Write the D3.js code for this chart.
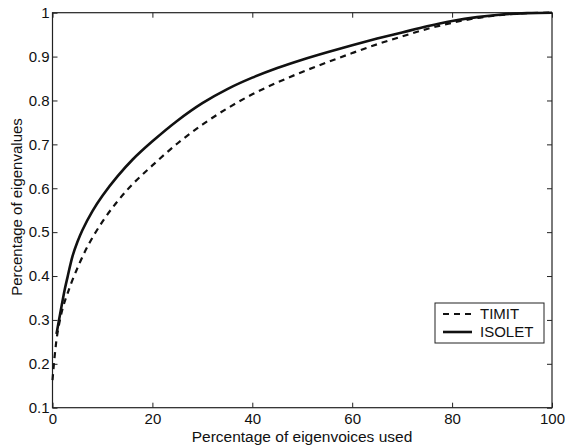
<!DOCTYPE html>
<html>
<head>
<meta charset="utf-8">
<script src="https://cdn.jsdelivr.net/npm/d3@7"></script>
<style>
  body { margin: 0; background: #fff; }
  svg { display: block; font-family: "Liberation Sans", Arial, sans-serif; }
  .axis text { font-size: 15px; fill: #111; }
  .axis line { stroke: #222; }
</style>
</head>
<body>
<script>
// percentage of eigenvoices used vs. percentage of eigenvalues
var timitX = [0, 0.5, 1, 2, 3, 4.5, 7, 10, 13, 16, 20, 25, 30, 35, 40, 45, 50, 55, 60, 65, 70, 75, 80, 85, 90, 95, 100];
var timitY = [0.163, 0.225, 0.27, 0.325, 0.36, 0.405, 0.467, 0.524, 0.570, 0.609, 0.652, 0.702, 0.745, 0.782, 0.814, 0.841, 0.865, 0.887, 0.908, 0.928, 0.946, 0.963, 0.977, 0.988, 0.995, 0.999, 1.0];

var isoletX = [0.8, 1.5, 2.5, 3, 4, 5, 6, 8, 10, 13, 16, 20, 25, 30, 35, 40, 45, 50, 55, 60, 65, 70, 75, 80, 85, 90, 95, 100];
var isoletY = [0.268, 0.312, 0.372, 0.397, 0.445, 0.478, 0.505, 0.548, 0.583, 0.627, 0.665, 0.707, 0.754, 0.794, 0.826, 0.852, 0.874, 0.893, 0.910, 0.926, 0.941, 0.955, 0.969, 0.981, 0.990, 0.996, 0.999, 1.0];

var xTicks = [0, 20, 40, 60, 80, 100];
var yTicks = [0.1, 0.2, 0.3, 0.4, 0.5, 0.6, 0.7, 0.8, 0.9, 1];
var seriesNames = ["TIMIT", "ISOLET"];

var W = 565, H = 446;
var box = { left: 52.5, right: 552, top: 12.7, bottom: 407.7 };

var svg = d3.select("body").append("svg")
    .attr("width", W)
    .attr("height", H);

var x = d3.scaleLinear().domain([0, 100]).range([box.left, box.right]);
var y = d3.scaleLinear().domain([0.1, 1]).range([box.bottom, box.top]);

var fmt = function(d) { return String(+d.toFixed(1)); };

// axes, ticks pointing inwards (matlab style)
svg.append("g")
    .attr("class", "axis")
    .attr("transform", "translate(0," + box.bottom + ")")
    .call(d3.axisBottom(x).tickValues(xTicks).tickSizeInner(-5).tickSizeOuter(0).tickPadding(6).tickFormat(fmt))
    .call(g => g.select(".domain").remove());

svg.append("g")
    .attr("class", "axis")
    .attr("transform", "translate(0," + box.top + ")")
    .call(d3.axisTop(x).tickValues(xTicks).tickSizeInner(-5).tickSizeOuter(0).tickFormat(""))
    .call(g => g.select(".domain").remove());

svg.append("g")
    .attr("class", "axis")
    .attr("transform", "translate(" + box.left + ",0)")
    .call(d3.axisLeft(y).tickValues(yTicks).tickSizeInner(-5).tickSizeOuter(0).tickPadding(3).tickFormat(fmt))
    .call(g => g.select(".domain").remove());

svg.append("g")
    .attr("class", "axis")
    .attr("transform", "translate(" + box.right + ",0)")
    .call(d3.axisRight(y).tickValues(yTicks).tickSizeInner(-5).tickSizeOuter(0).tickFormat(""))
    .call(g => g.select(".domain").remove());

svg.append("rect")
    .attr("x", box.left)
    .attr("y", box.top)
    .attr("width", box.right - box.left)
    .attr("height", box.bottom - box.top)
    .attr("fill", "none")
    .attr("stroke", "#222")
    .attr("stroke-width", 1.2);

// curves
var line = d3.line()
    .x(d => x(d[0]))
    .y(d => y(d[1]))
    .curve(d3.curveCatmullRom.alpha(0.5));

svg.append("path")
    .datum(d3.zip(timitX, timitY))
    .attr("d", line)
    .attr("fill", "none")
    .attr("stroke", "#111")
    .attr("stroke-width", 2.2)
    .attr("stroke-dasharray", "6,5");

svg.append("path")
    .datum(d3.zip(isoletX, isoletY))
    .attr("d", line)
    .attr("fill", "none")
    .attr("stroke", "#111")
    .attr("stroke-width", 2.6);

// axis labels
svg.append("text")
    .attr("x", 302)
    .attr("y", 442)
    .attr("text-anchor", "middle")
    .attr("font-size", 15.5)
    .attr("fill", "#111")
    .text("Percentage of eigenvoices used");

svg.append("text")
    .attr("transform", "translate(17," + 207 + ") rotate(-90)")
    .attr("dy", "0.35em")
    .attr("text-anchor", "middle")
    .attr("font-size", 15)
    .attr("fill", "#111")
    .text("Percentage of eigenvalues");

// legend
var legend = svg.append("g").attr("transform", "translate(435,303)");
legend.append("rect")
    .attr("width", 109)
    .attr("height", 40)
    .attr("fill", "#fff")
    .attr("stroke", "#222")
    .attr("stroke-width", 1);

var styles = [
    { dash: "6,5", width: 2.2 },
    { dash: null, width: 2.6 }];

seriesNames.forEach(function(name, i) {
    var cy = 11 + i * 18;
    legend.append("line")
        .attr("x1", 8).attr("x2", 37)
        .attr("y1", cy).attr("y2", cy)
        .attr("stroke", "#111")
        .attr("stroke-width", styles[i].width)
        .attr("stroke-dasharray", styles[i].dash);
    legend.append("text")
        .attr("x", 45)
        .attr("y", cy)
        .attr("dy", "0.36em")
        .attr("font-size", 15)
        .attr("fill", "#111")
        .text(name);
});
</script>
</body>
</html>
